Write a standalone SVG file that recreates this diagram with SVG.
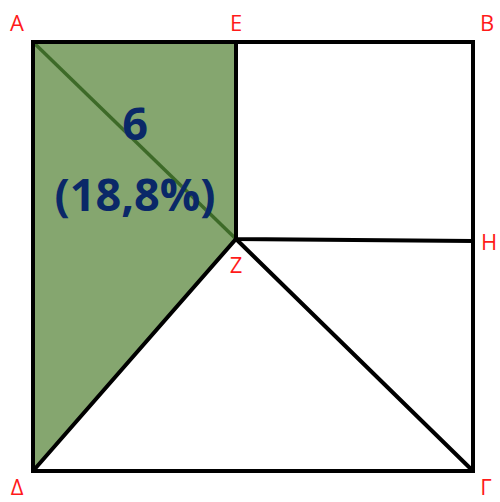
<svg xmlns="http://www.w3.org/2000/svg" width="500" height="502" viewBox="0 0 500 502">
<style>
.edge{stroke:#000;stroke-width:4;fill:none;stroke-linejoin:miter}
.lbl{font-family:"Open Sans","Liberation Sans",sans-serif;font-size:22px;fill:#ff1a1a;text-anchor:middle}
.val{font-family:"Open Sans","Liberation Sans",sans-serif;font-size:45px;font-weight:bold;fill:#0a2868;text-anchor:middle}
</style>
<rect width="500" height="502" fill="#fff"/>
<g id="shaded">
<polygon points="33,42 236,42 236,239 33,471" fill="#85a66f"/>
</g>
<g id="connectors">
<line x1="33" y1="42" x2="236" y2="239" stroke="#3d6a28" stroke-width="3.5"/>
<polyline class="edge" points="236,42 236,239 473,241"/>
<polyline class="edge" points="33,471 236,239 473,471"/>
<rect class="edge" x="33" y="42" width="440" height="429"/>
</g>
<g id="labels">
<text class="lbl" x="17" y="31">A</text>
<text class="lbl" x="236" y="31">E</text>
<text class="lbl" x="487" y="31">B</text>
<text class="lbl" x="489" y="250">H</text>
<text class="lbl" x="236" y="273">Z</text>
<text class="lbl" x="17" y="495">Δ</text>
<text class="lbl" x="486" y="495">Γ</text>
</g>
<g id="value">
<text class="val" x="135" y="140">6</text>
<text class="val" x="135" y="211">(18,8%)</text>
</g>
</svg>
